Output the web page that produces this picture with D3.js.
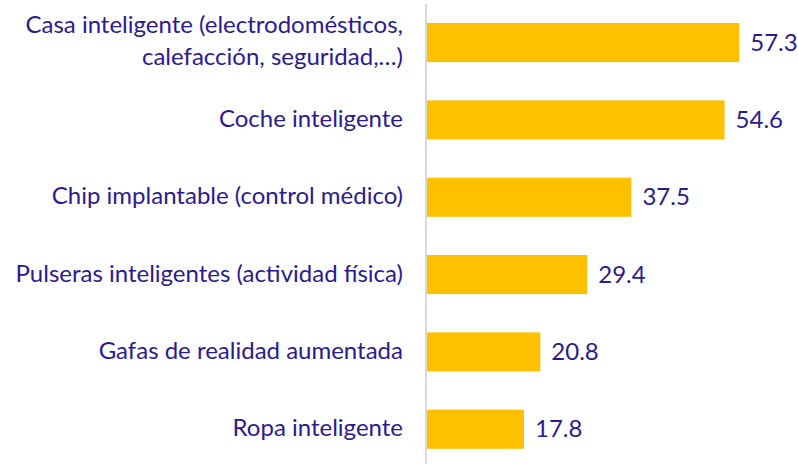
<!DOCTYPE html>
<html>
<head>
<meta charset="utf-8">
<script src="https://cdn.jsdelivr.net/npm/d3@7/dist/d3.min.js"></script>
<style>
  html, body { margin: 0; padding: 0; background: #ffffff; }
  svg { display: block; }
  text { font-family: Lato, "Open Sans", sans-serif; }
</style>
</head>
<body>
<svg id="chart" width="798" height="464"></svg>
<script>
// Categories (each entry split into display lines) and their values
const categories = [
  ["Casa inteligente (electrodomésticos,", "calefacción, seguridad,…)"],
  ["Coche inteligente"],
  ["Chip implantable (control médico)"],
  ["Pulseras inteligentes (actividad física)"],
  ["Gafas de realidad aumentada"],
  ["Ropa inteligente"]
];
const values = [57.3, 54.6, 37.5, 29.4, 20.8, 17.8];

const W = 798, H = 464;
const x0 = 427;
const svg = d3.select("#chart");

const keys = categories.map((d, i) => i);
const x = d3.scaleLinear().domain([0, 100]).range([x0, x0 + 545]);
const y = d3.scaleBand().domain(keys).range([3.9, 467.9]).paddingInner(0.495).paddingOuter(0.2475);

const textColor = "#2B1A92";
const fontSize = 24;

// bars
svg.append("g").selectAll("rect")
  .data(values)
  .join("rect")
  .attr("x", x(0))
  .attr("y", (d, i) => y(i))
  .attr("width", d => x(d) - x(0))
  .attr("height", y.bandwidth())
  .attr("fill", "#FFC000");

// vertical axis line
svg.append("line")
  .attr("x1", x0 - 1).attr("x2", x0 - 1)
  .attr("y1", 4).attr("y2", H)
  .attr("stroke", "#D9D9D9")
  .attr("stroke-width", 2);

// value labels
svg.append("g").selectAll("text")
  .data(values)
  .join("text")
  .attr("x", d => x(d) + 11)
  .attr("y", (d, i) => y(i) + y.bandwidth() / 2 + 8)
  .attr("fill", textColor)
  .attr("font-size", fontSize)
  .text(d => d.toFixed(1));

// category labels
const lineH = 32;
const lab = svg.append("g").selectAll("text")
  .data(categories)
  .join("text")
  .attr("text-anchor", "end")
  .attr("fill", textColor)
  .attr("font-size", fontSize)
  .attr("y", (d, i) => y(i) + y.bandwidth() / 2 + 7 - (d.length - 1) * (lineH / 2 + 0.5));
lab.each(function(d) {
  const t = d3.select(this);
  d.forEach((line, j) => {
    t.append("tspan")
      .attr("x", 403)
      .attr("dy", j === 0 ? 0 : lineH)
      .text(line);
  });
});
</script>
</body>
</html>
